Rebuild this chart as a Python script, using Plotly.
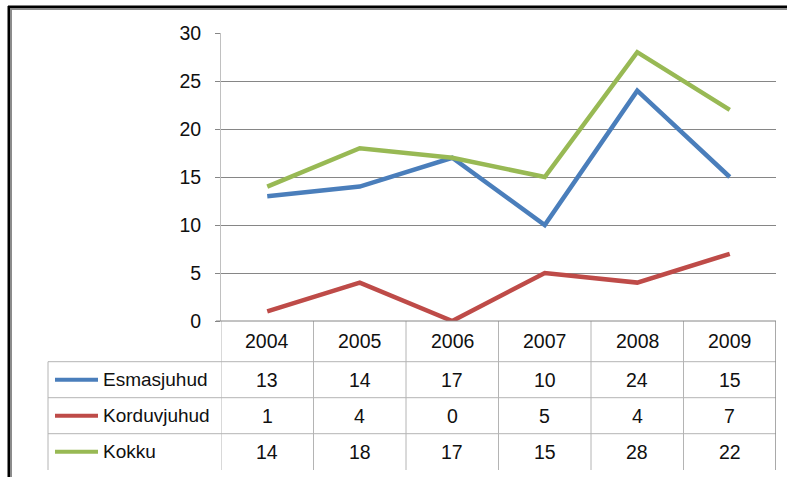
import plotly.graph_objects as go

years = ["2004", "2005", "2006", "2007", "2008", "2009"]
series_names = ["Esmasjuhud", "Korduvjuhud", "Kokku"]
esmasjuhud = [13, 14, 17, 10, 24, 15]
korduvjuhud = [1, 4, 0, 5, 4, 7]
kokku = [14, 18, 17, 15, 28, 22]
series_values = [esmasjuhud, korduvjuhud, kokku]
series_colors = ["#4a7ebb", "#be4b48", "#98b954"]
y_ticks = [0, 5, 10, 15, 20, 25, 30]

W, H = 787, 477
FONT = "Liberation Sans"
TXT = "#101010"


def xp(px):
    return px / W


def yp(py):
    return 1 - py / H


fig = go.Figure()
for name, vals, col in zip(series_names, series_values, series_colors):
    fig.add_trace(go.Scatter(
        x=years, y=vals, mode="lines", name=name,
        line=dict(color=col, width=4.5), showlegend=False,
        hoverinfo="skip",
    ))

shapes = []
annotations = []

# outer frame (black + gray inner)
shapes.append(dict(type="line", xref="paper", yref="paper", x0=xp(9), x1=xp(9), y0=yp(6), y1=yp(477),
                   line=dict(color="#000000", width=3)))
shapes.append(dict(type="line", xref="paper", yref="paper", x0=xp(11), x1=xp(11), y0=yp(9), y1=yp(477),
                   line=dict(color="#8c8c8c", width=2)))
shapes.append(dict(type="line", xref="paper", yref="paper", x0=xp(8), x1=xp(787), y0=yp(7), y1=yp(7),
                   line=dict(color="#000000", width=3)))
shapes.append(dict(type="line", xref="paper", yref="paper", x0=xp(10), x1=xp(787), y0=yp(9), y1=yp(9),
                   line=dict(color="#8c8c8c", width=2)))

# data table geometry
y_axis_px = 321
row_edges = [361.7, 397.7, 433.7, 469.7]
table_left = 48
table_bottom = 470
grid_light = "#b4b4b4"

for ry in row_edges[:-1]:
    shapes.append(dict(type="line", xref="paper", yref="paper", x0=xp(table_left), x1=xp(776),
                       y0=yp(ry), y1=yp(ry), line=dict(color=grid_light, width=1)))
shapes.append(dict(type="line", xref="paper", yref="paper", x0=xp(table_left), x1=xp(table_left),
                   y0=yp(row_edges[0]), y1=yp(table_bottom), line=dict(color=grid_light, width=1)))
for i in range(len(years) + 1):
    last = i == len(years)
    shapes.append(dict(type="line", xref="x", yref="paper", x0=i - 0.5, x1=i - 0.5,
                       y0=yp(y_axis_px), y1=yp(table_bottom),
                       line=dict(color="#8c8c8c" if last else grid_light, width=1.5 if last else 1)))
shapes.append(dict(type="line", xref="paper", yref="paper", x0=xp(216), x1=xp(776),
                   y0=yp(y_axis_px), y1=yp(y_axis_px), line=dict(color="#868686", width=1)))

header_c = (y_axis_px + row_edges[0]) / 2
for i, yr in enumerate(years):
    annotations.append(dict(x=i, y=yp(header_c), xref="x", yref="paper", text=yr, showarrow=False,
                            xanchor="center", yanchor="middle", font=dict(family=FONT, size=19.5, color=TXT)))

for r, (name, vals, col) in enumerate(zip(series_names, series_values, series_colors)):
    c = (row_edges[r] + row_edges[r + 1]) / 2
    shapes.append(dict(type="line", xref="paper", yref="paper", x0=xp(55), x1=xp(98),
                       y0=yp(c), y1=yp(c), line=dict(color=col, width=4)))
    annotations.append(dict(x=xp(101), y=yp(c), xref="paper", yref="paper", text=name, showarrow=False,
                            xanchor="left", yanchor="middle", font=dict(family=FONT, size=19, color=TXT)))
    for i, v in enumerate(vals):
        annotations.append(dict(x=i, y=yp(c), xref="x", yref="paper", text=str(v), showarrow=False,
                                xanchor="center", yanchor="middle", font=dict(family=FONT, size=19.5, color=TXT)))

fig.update_layout(
    width=W, height=H,
    margin=dict(l=0, r=0, t=0, b=0, pad=0),
    paper_bgcolor="white", plot_bgcolor="white",
    font=dict(family=FONT, size=19, color=TXT),
    shapes=shapes, annotations=annotations,
    xaxis=dict(domain=[xp(221), xp(776)], range=[-0.5, 5.5], type="category",
               showticklabels=False, showgrid=False, zeroline=False, showline=False, ticks="",
               automargin=False),
    yaxis=dict(domain=[yp(321), yp(33)], range=[0, 30], tickvals=y_ticks,
               showgrid=True, gridcolor="#868686", gridwidth=1, zeroline=False,
               showline=True, linecolor="#c0c0c0", linewidth=1,
               ticks="outside", ticklen=5, tickcolor="#868686",
               ticklabelstandoff=10, automargin=False,
               tickfont=dict(family=FONT, size=19.5, color=TXT)),
)

fig.write_html(
    "out.html",
    config={"displayModeBar": False, "staticPlot": True},
    post_script=(
        "document.documentElement.style.margin='0';document.body.style.margin='0';"
        "document.body.style.padding='0';document.body.style.overflow='hidden';"
        "var d=document.getElementById('{plot_id}');d.style.position='fixed';"
        "d.style.top='0px';d.style.left='0px';"
    ),
)
